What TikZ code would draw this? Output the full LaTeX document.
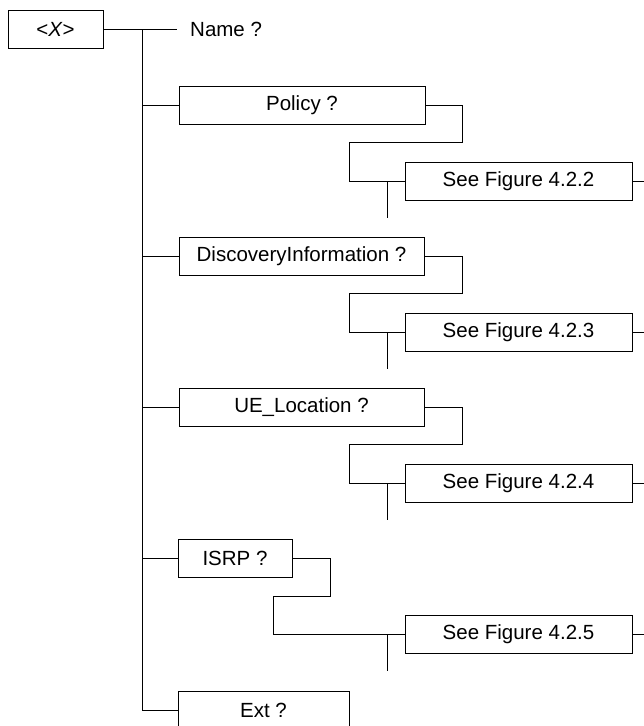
\documentclass[tikz,border=0pt]{standalone}
\usepackage{fontspec}
\setmainfont{Liberation Sans}
\begin{document}
\begin{tikzpicture}[x=1pt,y=-1pt,
  box/.style={draw,line width=0.9pt,rectangle,minimum height=38pt,inner sep=0pt,font=\fontsize{20.5}{24}\selectfont},
  wire/.style={line width=0.9pt}]
\useasboundingbox (0,0) rectangle (644,726);
% root
\node[box,minimum width=95pt] (X) at (55.5,29) {<\textit{X}>};
\coordinate (t0) at (142,29);
\coordinate (tEnd) at (142,710);
\coordinate (nend) at (177,29);
\node[anchor=west,inner sep=0pt,font=\fontsize{20.5}{24}\selectfont] (name) at (190,29) {Name ?};
\draw[wire] (X.east) -- (nend);
\draw[wire] (t0) -- (tEnd);
% children
\node[box,minimum width=246pt] (pol) at (302,105) {Policy ?};
\node[box,minimum width=245pt] (disc) at (301.5,256) {DiscoveryInformation ?};
\node[box,minimum width=245pt] (ue) at (301.5,407) {UE\_Location ?};
\node[box,minimum width=114pt] (isrp) at (235,558) {ISRP ?};
\node[box,minimum width=171pt] (ext) at (263.5,710) {Ext ?};
\foreach \n in {pol,disc,ue,isrp,ext}{
  \draw[wire] (\n.west -| t0) -- (\n.west);
}
% see-figure boxes
\node[box,minimum width=227pt] (s2) at (518.5,181) {See Figure 4.2.2};
\node[box,minimum width=227pt] (s3) at (518.5,332) {See Figure 4.2.3};
\node[box,minimum width=227pt] (s4) at (518.5,483) {See Figure 4.2.4};
\node[box,minimum width=227pt] (s5) at (518.5,634) {See Figure 4.2.5};
% connector corners
\coordinate (pa) at (462,142); \coordinate (pb) at (349,142);
\coordinate (da) at (462,293); \coordinate (db) at (349,293);
\coordinate (ua) at (462,444); \coordinate (ub) at (349,444);
\coordinate (ia) at (330,596); \coordinate (ib) at (273,596);
\draw[wire] (pol.east) -| (pa) -- (pb) |- (s2.west);
\draw[wire] (disc.east) -| (da) -- (db) |- (s3.west);
\draw[wire] (ue.east) -| (ua) -- (ub) |- (s4.west);
\draw[wire] (isrp.east) -| (ia) -- (ib) |- (s5.west);
% stubs
\foreach \s/\y in {s2/181,s3/332,s4/483,s5/634}{
  \coordinate (\s top) at (387,\y);
  \coordinate (\s bot) at (387,\y+37);
  \coordinate (\s end) at (644,\y);
  \draw[wire] (\s top) -- (\s bot);
  \draw[wire] (\s.east) -- (\s end);
}
\end{tikzpicture}
\end{document}
